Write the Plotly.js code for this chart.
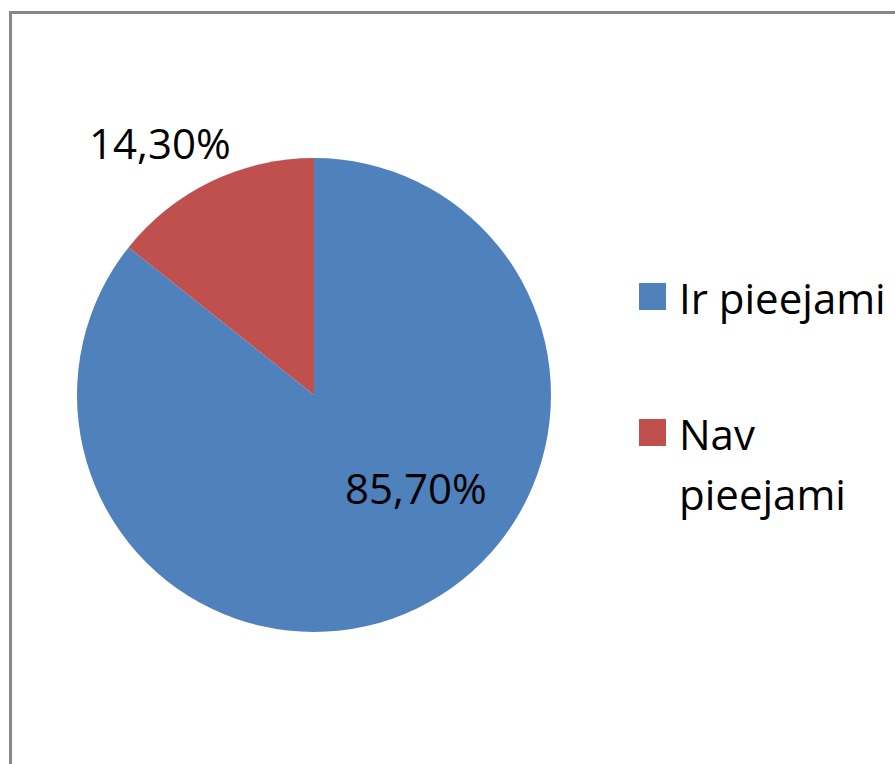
<!DOCTYPE html>
<html><head><meta charset="utf-8">
<script src="https://cdn.plot.ly/plotly-3.0.1.min.js"></script>
<style>
html,body{margin:0;padding:0;background:#fff;overflow:hidden;}
#wrap{position:relative;width:895px;height:764px;overflow:hidden;}
#frame{position:absolute;left:9px;top:11px;width:1000px;height:1000px;border:3px solid #878787;pointer-events:none;}
#chart{position:absolute;left:0;top:0;width:895px;height:764px;}
</style></head>
<body><div id="wrap"><div id="chart"></div><div id="frame"></div></div>
<script>
var labels = ['Ir pieejami', 'Nav pieejami'];
var values = [85.7, 14.3];
var colors = ['#4F81BD', '#C0504D'];
var legendLines = [['Ir pieejami'], ['Nav', 'pieejami']];

var W = 895, H = 764;
var cx = 314, cy = 395, R = 237;
var FONT = 'Open Sans, sans-serif';
var FS = 42;

function fmt(v){ return v.toFixed(2).replace('.', ',') + '%'; }

var trace = {
  type: 'pie',
  labels: labels,
  values: values,
  marker: {colors: colors, line: {width: 0}},
  sort: false,
  direction: 'clockwise',
  rotation: 0,
  textinfo: 'none',
  hoverinfo: 'label+percent',
  showlegend: false,
  domain: {x: [(cx - R) / W, (cx + R) / W], y: [1 - (cy + R) / H, 1 - (cy - R) / H]}
};

var labelPos = [[416, 487], [160, 143]];
var annotations = [];
var shapes = [];
values.forEach(function(v, i){
  annotations.push({
    xref: 'paper', yref: 'paper', x: labelPos[i][0] / W, y: 1 - labelPos[i][1] / H,
    xanchor: 'center', yanchor: 'middle', showarrow: false,
    text: fmt(v), font: {family: FONT, size: FS, color: '#000'}
  });
});
var legTop = [283, 419];
var lineGap = 60;
labels.forEach(function(l, i){
  shapes.push({
    type: 'rect', xref: 'paper', yref: 'paper',
    x0: 639 / W, x1: 666 / W, y0: 1 - legTop[i] / H, y1: 1 - (legTop[i] + 27) / H,
    fillcolor: colors[i], line: {width: 0}
  });
  legendLines[i].forEach(function(t, j){
    annotations.push({
      xref: 'paper', yref: 'paper', x: 677 / W, y: 1 - (legTop[i] + 14 + j * lineGap) / H,
      xanchor: 'left', yanchor: 'middle', showarrow: false,
      text: t, font: {family: FONT, size: FS, color: '#000'}
    });
  });
});

Plotly.newPlot('chart', [trace], {
  width: W, height: H,
  margin: {l: 0, r: 0, t: 0, b: 0},
  paper_bgcolor: '#fff',
  separators: ',.',
  showlegend: false,
  annotations: annotations,
  shapes: shapes
}, {displayModeBar: false, staticPlot: true});
</script></body></html>
